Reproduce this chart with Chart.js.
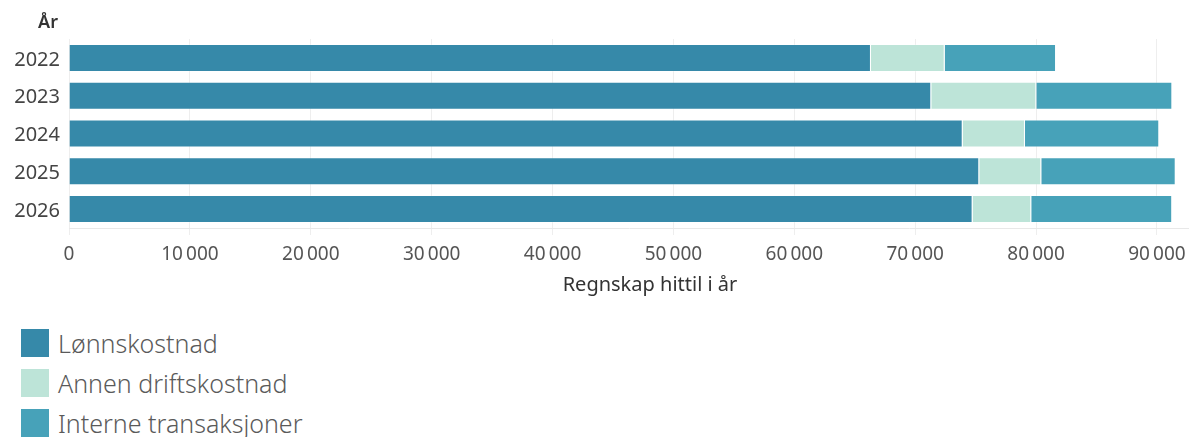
<!DOCTYPE html>
<html>
<head>
<meta charset="utf-8">
<script src="https://cdn.jsdelivr.net/npm/chart.js@4"></script>
<style>
  html, body { margin: 0; padding: 0; background: #fff; }
  body { width: 1189px; height: 437px; position: relative; overflow: hidden; font-family: "Noto Sans", "Open Sans", sans-serif; }
  #wrap { position: absolute; left: 0; top: 0; width: 1189px; height: 300px; }
  #yTitle { position: absolute; right: calc(1189px - 58px); top: 9px; font-size: 18px; font-weight: 600; color: #333; }
  #xTitle { position: absolute; left: 650px; top: 270px; transform: translateX(-50%); font-size: 20px; color: #333; white-space: nowrap; }
  #legend { position: absolute; left: 21px; top: 329px; }
  .item { display: flex; align-items: center; height: 28px; margin-bottom: 12px; }
  .box { width: 28px; height: 28px; margin-right: 9px; }
  .lbl { font-size: 25px; color: #5a5a5a; font-weight: 300; white-space: nowrap; }
</style>
</head>
<body>
<div id="wrap"><canvas id="c" width="1189" height="300"></canvas></div>
<div id="yTitle">År</div>
<div id="xTitle"></div>
<div id="legend"></div>
<script>
const years = ["2022", "2023", "2024", "2025", "2026"];
const seriesNames = ["Lønnskostnad", "Annen driftskostnad", "Interne transaksjoner"];
const lonnskostnad = [66340, 71330, 73930, 75300, 74750];
const annenDrift = [6100, 8690, 5150, 5130, 4850];
const interne = [9210, 11250, 11110, 11120, 11660];
const xTickValues = [0, 10000, 20000, 30000, 40000, 50000, 60000, 70000, 80000, 90000];
const xAxisTitle = "Regnskap hittil i år";
const colors = ["#3689a9", "#bde4d8", "#47a2b9"];

document.getElementById("xTitle").textContent = xAxisTitle;

const fmt = v => String(v).replace(/\B(?=(\d{3})+(?!\d))/g, "\u2009");

const chart = new Chart(document.getElementById("c"), {
  type: "bar",
  data: {
    labels: years,
    datasets: [lonnskostnad, annenDrift, interne].map((d, i) => ({
      label: seriesNames[i],
      data: d,
      backgroundColor: colors[i],
      borderColor: "rgba(255,255,255,0.25)",
      borderWidth: 1,
      barPercentage: 0.74,
      categoryPercentage: 1
    }))
  },
  options: {
    indexAxis: "y",
    responsive: false,
    animation: false,
    layout: { padding: { top: 39, left: 0, right: 0, bottom: 0 } },
    plugins: { legend: { display: false }, tooltip: { enabled: false } },
    scales: {
      x: {
        stacked: true,
        min: 0,
        max: 92650,
        afterBuildTicks: s => { s.ticks = xTickValues.map(v => ({ value: v })); },
        afterFit: s => { s.height = 72; s.paddingRight = 0; s.paddingLeft = 0; },
        grid: { color: "#eeeeee", tickLength: 7, drawTicks: true },
        border: { color: "#e8e8e8" },
        ticks: {
          callback: v => fmt(v),
          color: "#555",
          font: { family: "Noto Sans", size: 19 },
          padding: 8,
          maxRotation: 0
        },
        title: { display: false }
      },
      y: {
        stacked: true,
        afterFit: s => { s.width = 69; },
        grid: { display: false, drawTicks: false },
        border: { display: false },
        ticks: {
          color: "#444",
          font: { family: "Noto Sans", size: 20 },
          padding: 9,
          labelOffset: 2
        }
      }
    }
  }
});

const lg = document.getElementById("legend");
chart.data.datasets.forEach(ds => {
  const it = document.createElement("div");
  it.className = "item";
  const b = document.createElement("div");
  b.className = "box";
  b.style.background = ds.backgroundColor;
  const t = document.createElement("span");
  t.className = "lbl";
  t.textContent = ds.label;
  it.appendChild(b); it.appendChild(t);
  lg.appendChild(it);
});
</script>
</body>
</html>
